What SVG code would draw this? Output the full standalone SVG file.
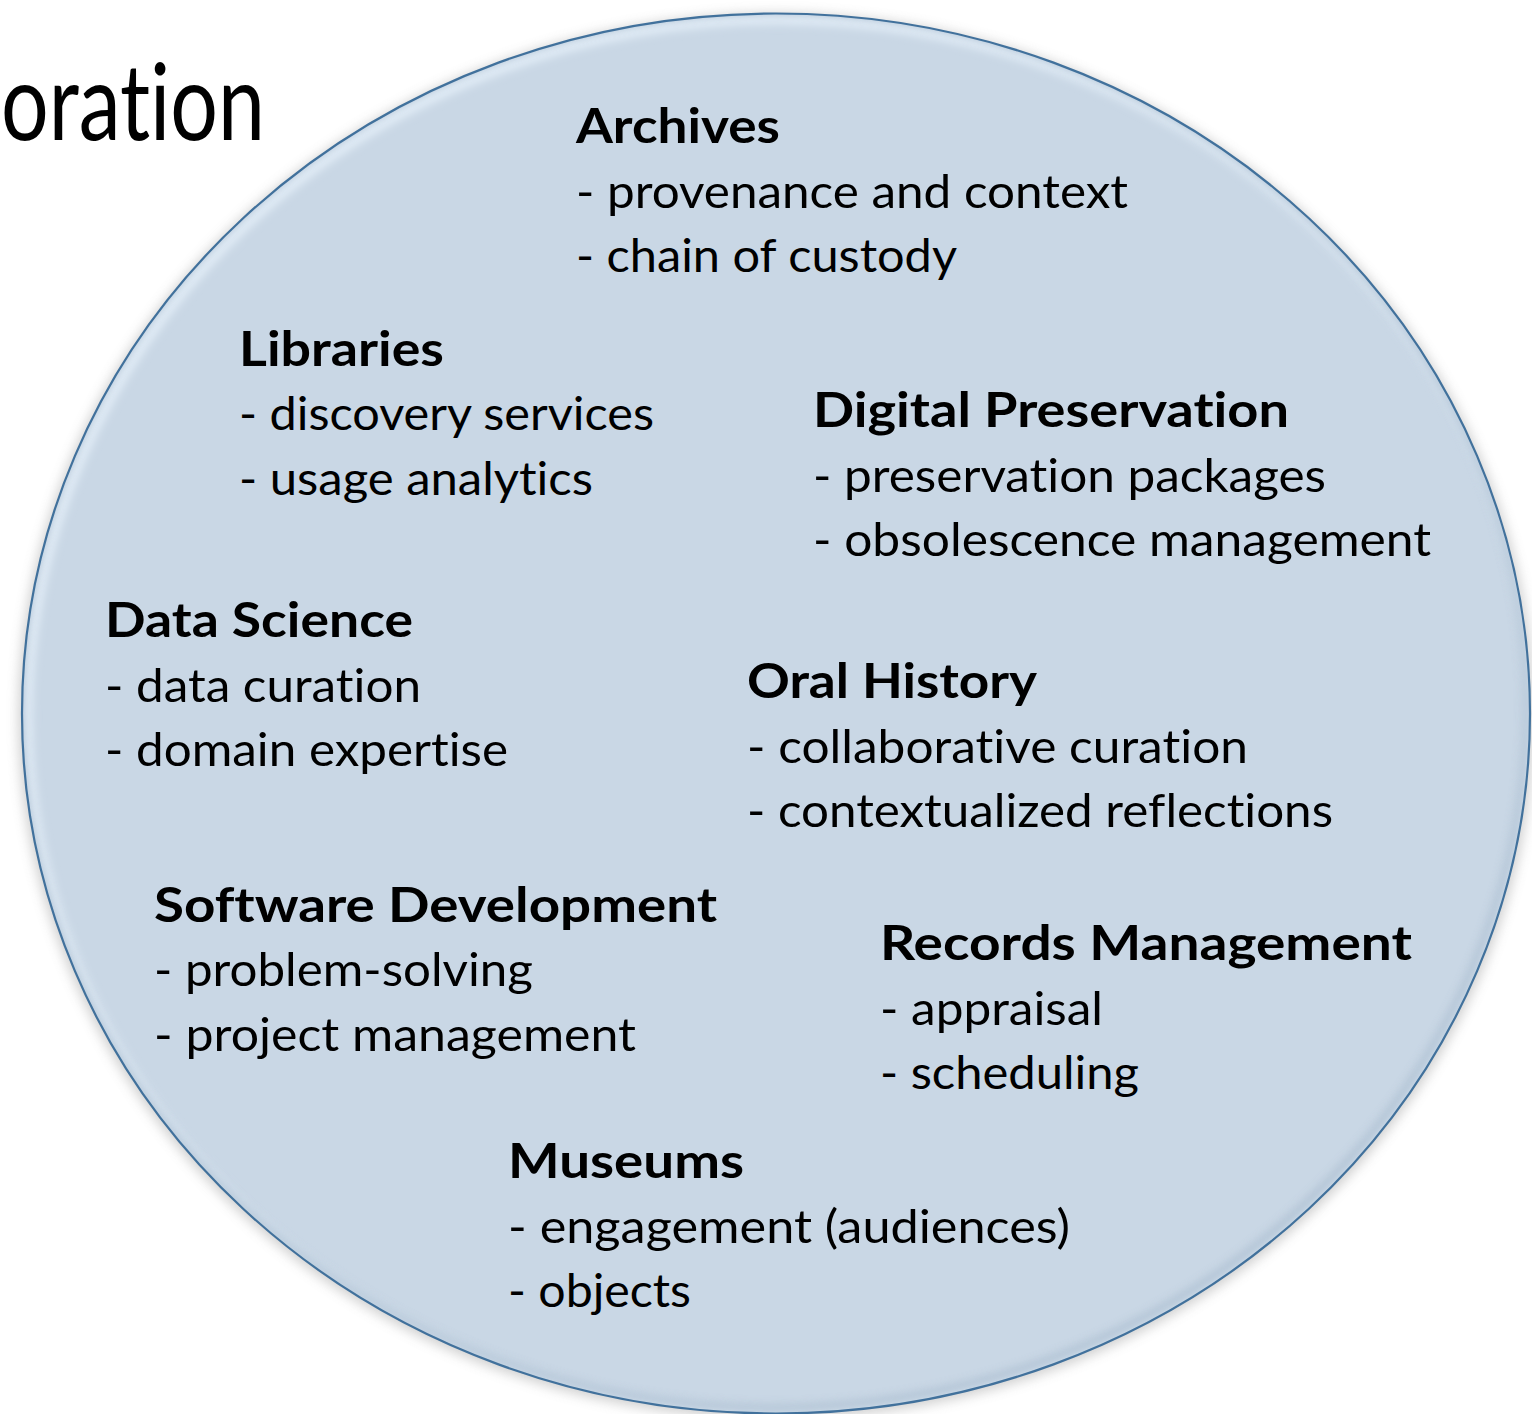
<svg xmlns="http://www.w3.org/2000/svg" width="1532" height="1414" viewBox="0 0 1532 1414">
  <style>
    text { font-variant-ligatures: none; font-feature-settings: "liga" 0, "clig" 0; }
    .h { font-family: Lato, "Open Sans", "Liberation Sans", sans-serif; font-weight: bold; font-size: 47px; fill: #000; }
    .t { font-family: Lato, "Open Sans", "Liberation Sans", sans-serif; font-weight: normal; font-size: 47px; fill: #000; }
    .title { font-family: Lato, "Open Sans", "Liberation Sans", sans-serif; font-size: 106px; fill: #000; }
  </style>
  <defs>
    <filter id="shadow" x="-10%" y="-10%" width="120%" height="120%">
      <feGaussianBlur stdDeviation="6"/>
    </filter>
    <filter id="soft" x="-10%" y="-10%" width="120%" height="120%">
      <feGaussianBlur stdDeviation="4"/>
    </filter>
    <clipPath id="clipEll">
      <ellipse cx="776" cy="713.5" rx="754" ry="700"/>
    </clipPath>
  </defs>
  <rect x="0" y="0" width="1532" height="1414" fill="#ffffff"/>

  <g id="title">
    <text class="title" x="1" y="140" textLength="264" lengthAdjust="spacingAndGlyphs">oration</text>
  </g>

  <g id="circle">
    <ellipse cx="776" cy="716" rx="758" ry="703" fill="#9a9a9a" opacity="0.45" filter="url(#shadow)"/>
    <ellipse cx="776" cy="713.5" rx="754" ry="700" fill="#c9d7e5"/>
    <g clip-path="url(#clipEll)">
      <ellipse cx="779" cy="717" rx="752" ry="698" fill="none" stroke="#e2edf7" stroke-width="10" filter="url(#soft)"/>
      <ellipse cx="773" cy="709" rx="754" ry="700" fill="none" stroke="#a9bccf" stroke-width="8" filter="url(#soft)" opacity="0.8"/>
    </g>
    <ellipse cx="776" cy="713.5" rx="754" ry="700" fill="none" stroke="#41719c" stroke-width="2.2"/>
  </g>

  <g id="archives">
    <text class="h" x="576" y="143" textLength="204" lengthAdjust="spacingAndGlyphs">Archives</text>
    <text class="t" x="576" y="208" textLength="552" lengthAdjust="spacingAndGlyphs">- provenance and context</text>
    <text class="t" x="576" y="272" textLength="381" lengthAdjust="spacingAndGlyphs">- chain of custody</text>
  </g>

  <g id="libraries">
    <text class="h" x="239" y="366" textLength="205" lengthAdjust="spacingAndGlyphs">Libraries</text>
    <text class="t" x="239" y="430" textLength="415" lengthAdjust="spacingAndGlyphs">- discovery services</text>
    <text class="t" x="239" y="495" textLength="354" lengthAdjust="spacingAndGlyphs">- usage analytics</text>
  </g>

  <g id="digital-preservation">
    <text class="h" x="813" y="427" textLength="476" lengthAdjust="spacingAndGlyphs">Digital Preservation</text>
    <text class="t" x="813" y="492" textLength="513" lengthAdjust="spacingAndGlyphs">- preservation packages</text>
    <text class="t" x="813" y="556" textLength="618" lengthAdjust="spacingAndGlyphs">- obsolescence management</text>
  </g>

  <g id="data-science">
    <text class="h" x="105" y="637" textLength="308" lengthAdjust="spacingAndGlyphs">Data Science</text>
    <text class="t" x="105" y="702" textLength="316" lengthAdjust="spacingAndGlyphs">- data curation</text>
    <text class="t" x="105" y="766" textLength="403" lengthAdjust="spacingAndGlyphs">- domain expertise</text>
  </g>

  <g id="oral-history">
    <text class="h" x="747" y="698" textLength="290" lengthAdjust="spacingAndGlyphs">Oral History</text>
    <text class="t" x="747" y="763" textLength="501" lengthAdjust="spacingAndGlyphs">- collaborative curation</text>
    <text class="t" x="747" y="827" textLength="586" lengthAdjust="spacingAndGlyphs">- contextualized reflections</text>
  </g>

  <g id="software-development">
    <text class="h" x="154" y="922" textLength="563" lengthAdjust="spacingAndGlyphs">Software Development</text>
    <text class="t" x="154" y="986" textLength="379" lengthAdjust="spacingAndGlyphs">- problem-solving</text>
    <text class="t" x="154" y="1051" textLength="482" lengthAdjust="spacingAndGlyphs">- project management</text>
  </g>

  <g id="records-management">
    <text class="h" x="880" y="960" textLength="532" lengthAdjust="spacingAndGlyphs">Records Management</text>
    <text class="t" x="880" y="1025" textLength="223" lengthAdjust="spacingAndGlyphs">- appraisal</text>
    <text class="t" x="880" y="1089" textLength="259" lengthAdjust="spacingAndGlyphs">- scheduling</text>
  </g>

  <g id="museums">
    <text class="h" x="508" y="1178" textLength="236" lengthAdjust="spacingAndGlyphs">Museums</text>
    <text class="t" x="508" y="1243" textLength="562" lengthAdjust="spacingAndGlyphs">- engagement (audiences)</text>
    <text class="t" x="508" y="1307" textLength="183" lengthAdjust="spacingAndGlyphs">- objects</text>
  </g>

  <g id="connectors"></g>
</svg>
